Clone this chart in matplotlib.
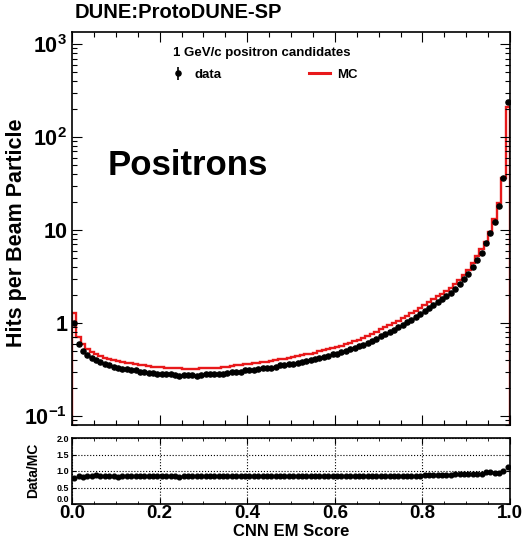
import numpy as np
import matplotlib
matplotlib.use('Agg')
import matplotlib.pyplot as plt
from matplotlib.ticker import FixedLocator, FixedFormatter, MultipleLocator, LogLocator, NullFormatter

plt.rcParams['font.family'] = ['Liberation Sans', 'DejaVu Sans']
plt.rcParams['font.weight'] = 'bold'
plt.rcParams['mathtext.fontset'] = 'custom'
plt.rcParams['mathtext.rm'] = 'Liberation Sans:bold'
plt.rcParams['mathtext.bf'] = 'Liberation Sans:bold'
plt.rcParams['mathtext.it'] = 'Liberation Sans:bold'

# 100 bins of CNN EM score, 0..1
edges = np.linspace(0.0, 1.0, 101)

mc = [1.27, 0.70, 0.60, 0.53, 0.49, 0.46, 0.44, 0.42, 0.41, 0.40,
      0.39, 0.38, 0.375, 0.37, 0.36, 0.355, 0.35, 0.345, 0.34, 0.34,
      0.335, 0.33, 0.33, 0.325, 0.325, 0.32, 0.32, 0.32, 0.32, 0.325,
      0.325, 0.325, 0.33, 0.33, 0.335, 0.34, 0.345, 0.35, 0.355, 0.36,
      0.365, 0.37, 0.375, 0.38, 0.385, 0.39, 0.40, 0.41, 0.415, 0.42,
      0.43, 0.44, 0.45, 0.46, 0.47, 0.48, 0.495, 0.51, 0.525, 0.54,
      0.555, 0.57, 0.59, 0.61, 0.635, 0.66, 0.69, 0.72, 0.76, 0.80,
      0.86, 0.90, 0.95, 1.00, 1.06, 1.12, 1.19, 1.27, 1.36, 1.46,
      1.57, 1.68, 1.80, 1.93, 2.07, 2.20, 2.36, 2.60, 2.90, 3.30,
      3.70, 4.40, 5.20, 6.20, 7.50, 9.60, 13.0, 19.4, 36.0, 212.0]

data = [1.00, 0.59, 0.50, 0.45, 0.42, 0.40, 0.38, 0.36, 0.35, 0.34,
        0.325, 0.32, 0.32, 0.315, 0.31, 0.30, 0.295, 0.29, 0.29, 0.285,
        0.285, 0.28, 0.28, 0.275, 0.27, 0.275, 0.275, 0.275, 0.27, 0.275,
        0.28, 0.28, 0.28, 0.285, 0.285, 0.29, 0.295, 0.30, 0.30, 0.31,
        0.315, 0.315, 0.32, 0.325, 0.33, 0.33, 0.34, 0.35, 0.355, 0.36,
        0.365, 0.375, 0.385, 0.39, 0.40, 0.41, 0.42, 0.435, 0.445, 0.46,
        0.47, 0.485, 0.50, 0.52, 0.54, 0.56, 0.585, 0.61, 0.645, 0.68,
        0.73, 0.765, 0.81, 0.85, 0.91, 0.96, 1.02, 1.09, 1.17, 1.26,
        1.36, 1.46, 1.57, 1.69, 1.82, 1.95, 2.10, 2.33, 2.62, 2.97,
        3.38, 4.00, 4.75, 5.70, 7.20, 9.30, 12.3, 18.3, 36.0, 240.0]

ytick_vals = [0.1, 1, 10, 100, 1000]
ytick_labels = [r'$10^{-1}$', '1', '10', r'$10^{2}$', r'$10^{3}$']
xtick_vals = [0.0, 0.2, 0.4, 0.6, 0.8, 1.0]
xtick_labels = ['0.0', '0.2', '0.4', '0.6', '0.8', '1.0']
rtick_vals = [0.0, 0.5, 1.0, 1.5, 2.0]
rtick_labels = ['0.0', '0.5', '1.0', '1.5', '2.0']

centers = 0.5 * (edges[:-1] + edges[1:])
mc = np.array(mc)
data = np.array(data)
ratio = data / mc

W, H = 523, 540
fig = plt.figure(figsize=(W / 100, H / 100), dpi=100)
ax = fig.add_axes([72 / W, 1 - 425 / H, (510 - 72) / W, (425 - 32) / H])
rax = fig.add_axes([72 / W, 1 - 504 / H, (510 - 72) / W, (504 - 438) / H])

red = '#e8191b'
ylo, yhi = 0.08, 1350
ax.stairs(mc, edges, baseline=1e-3, color=red, lw=1.7)
ax.plot(centers, data, 'o', color='black', ms=3.7, zorder=3)
hdata = ax.errorbar([], [], yerr=[], fmt='o', color='black', ms=3.7, elinewidth=1.2)

ax.set_yscale('log')
ax.set_xlim(0, 1)
ax.set_ylim(ylo, yhi)
ax.yaxis.set_major_locator(FixedLocator(ytick_vals))
ax.yaxis.set_major_formatter(FixedFormatter(ytick_labels))
ax.yaxis.set_minor_locator(LogLocator(base=10, subs=np.arange(2, 10)))
ax.yaxis.set_minor_formatter(NullFormatter())
ax.xaxis.set_major_locator(MultipleLocator(0.2))
ax.xaxis.set_minor_locator(MultipleLocator(0.05))
ax.tick_params(axis='x', labelbottom=False)
ax.tick_params(which='both', direction='in', top=True, right=True)
ax.tick_params(which='major', length=7, width=0.8, labelsize=15.5)
ax.tick_params(which='minor', length=3.5, width=0.8)
for s in ax.spines.values():
    s.set_linewidth(1.2)

leg = ax.legend([hdata, plt.Line2D([], [], color=red, lw=2.2)],
                ['data', 'MC'], ncol=2, frameon=False,
                loc='upper left', bbox_to_anchor=(0.205, 0.975),
                title='1 GeV/c positron candidates',
                fontsize=9.5, handlelength=1.6, handletextpad=0.5,
                columnspacing=6.6, borderaxespad=0, labelspacing=0.3)
leg.get_title().set_fontweight('bold')
leg.get_title().set_fontsize(9.5)
leg._legend_box.sep = 7

ax.text(0.082, 0.66, 'Positrons', transform=ax.transAxes, fontsize=25,
        fontweight='bold', va='center', ha='left')

fig.text(75 / W, 1 - 13 / H, 'DUNE:ProtoDUNE-SP', fontsize=14.5,
         fontweight='bold', va='center', ha='left')
fig.text(17 / W, 1 - 233 / H, 'Hits per Beam Particle', rotation=90,
         fontsize=15.5, fontweight='bold', va='center', ha='center')

# ratio panel
rax.plot(centers, ratio, 'o', color='black', ms=3.4)
rax.set_xlim(0, 1)
rax.set_ylim(0, 2)
rax.xaxis.set_major_locator(FixedLocator(xtick_vals))
rax.xaxis.set_major_formatter(FixedFormatter(xtick_labels))
rax.xaxis.set_minor_locator(MultipleLocator(0.05))
rax.yaxis.set_major_locator(FixedLocator(rtick_vals))
rax.yaxis.set_major_formatter(FixedFormatter(rtick_labels))
rax.grid(True, which='major', ls=':', color='black', lw=0.8)
rax.tick_params(which='both', direction='in', top=True, right=True)
rax.tick_params(axis='x', which='major', length=4, labelsize=13.5, pad=1)
rax.tick_params(axis='x', which='minor', length=2)
rax.tick_params(axis='y', which='major', length=3, labelsize=6.5, pad=2)
for s in rax.spines.values():
    s.set_linewidth(1.2)
rax.set_xlabel('CNN EM Score', fontsize=12, fontweight='bold', labelpad=1)
fig.text(33 / W, 1 - 470 / H, 'Data/MC', rotation=90, fontsize=10,
         fontweight='bold', va='center', ha='center')

# keep the lowest ratio label clear of the x tick label below it
fig.canvas.draw()
rax.get_yticklabels()[0].set_va('bottom')

fig.savefig('out.png', dpi=100)
